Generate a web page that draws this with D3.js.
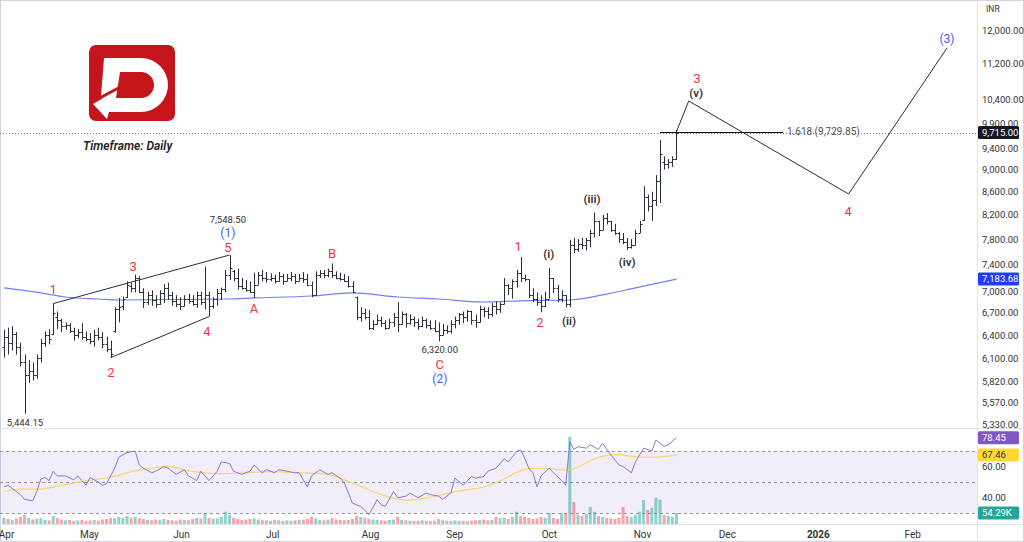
<!DOCTYPE html>
<html>
<head>
<meta charset="utf-8">
<script src="https://cdn.jsdelivr.net/npm/d3@7"></script>
<style>
html, body { margin: 0; padding: 0; background: #fff; }
svg { display: block; font-family: Roboto, "Liberation Sans", sans-serif; }
</style>
</head>
<body>
<svg id="chart"></svg>
<script>
// Daily OHLC bars, Apr -> mid Nov (index = trading bar)
const opens = [6250,6380,6300,6420,6250,6050,5900,5950,5900,6100, 6300,6400,6420,6650,6600,6520,6540,6460,6400,6440,
  6380,6350,6320,6400,6380,6280,6220,6450,6750,6790, 6920,7080,7050,7200,7000,6850,6950,6880,6820,6980,
  7050,6950,6870,6820,6790,6900,6870,6830,6950,6850, 6950,6800,6900,6980,7040,7250,7300,7200,7080,7060,
  7020,7000,7100,7250,7200,7180,7200,7150,7230,7150, 7200,7230,7150,7200,7180,7100,6950,7250,7280,7240,
  7300,7250,7200,7180,7150,7080,6930,6650,6700,6640, 6500,6550,6600,6560,6500,6580,6650,6550,6680,6560,
  6620,6580,6520,6600,6540,6500,6460,6400,6470,6450, 6550,6600,6680,6650,6720,6600,6580,6750,6720,6680,
  6800,6760,6830,7100,7050,7150,7280,7200,7180,6950, 6900,6850,6800,6900,7200,7050,6900,6950,6830,7700,
  7650,7720,7700,7780,7900,8100,7950,8150,8100,7950, 7900,7800,7750,7680,7700,7900,8120,8500,8350,8450,
  8800,9150,9100,9150,9200];
const highs = [6470,6500,6520,6440,6300,6150,6080,6050,6150,6350, 6450,6480,6830,6720,6620,6570,6560,6500,6480,6560,
  6450,6430,6470,6500,6440,6380,6330,6780,6910,6930, 7150,7130,7250,7230,7050,7000,7020,6950,7020,7110,
  7130,7000,6950,6920,6950,6970,6950,7000,7000,7370, 7000,6920,7040,7060,7320,7548.5,7320,7340,7200,7170,
  7150,7280,7290,7320,7290,7270,7250,7290,7260,7260, 7290,7260,7260,7290,7260,7150,7300,7320,7320,7340,
  7420,7300,7280,7260,7230,7150,6930,6780,6760,6740, 6600,6680,6650,6600,6620,6700,6850,6720,6700,6680,
  6650,6620,6650,6620,6600,6600,6570,6550,6530,6600, 6650,6700,6720,6740,6730,6680,6800,6780,6780,6840,
  6860,6850,7200,7110,7180,7320,7520,7250,7180,7050, 6990,6950,7000,7350,7200,7100,7020,6950,7790,7820,
  7800,7820,7820,7950,8240,8100,8200,8230,8100,8050, 7920,7900,7820,7800,7950,8100,8700,8550,8600,8900,
  9570,9250,9200,9250,9760];
const lows = [6110,6150,6200,6150,6000,5444.15,5800,5830,5850,6050, 6250,6280,6400,6480,6440,6470,6430,6330,6360,6340,
  6320,6280,6250,6330,6230,6180,6110,6430,6570,6740, 6910,6990,6990,6980,6770,6810,6800,6770,6810,6840,
  6880,6800,6780,6740,6790,6830,6800,6770,6810,6750, 6650,6760,6800,6880,6990,7170,7150,7030,7030,7000,
  6980,6910,7100,7150,7130,7150,7120,7150,7100,7150, 7150,7110,7150,7130,7080,6920,6940,7200,7200,7210,
  7200,7180,7160,7140,7060,6980,6600,6580,6610,6470, 6470,6540,6510,6470,6490,6510,6440,6540,6500,6540,
  6510,6470,6510,6490,6470,6440,6320,6400,6420,6420, 6490,6540,6560,6580,6540,6500,6570,6640,6620,6650,
  6680,6700,6820,6950,6900,7060,7140,7150,6910,6850, 6800,6710,6780,6900,6980,6850,6850,6780,6780,7580,
  7600,7640,7620,7670,7830,7850,7950,8040,7920,7870, 7740,7720,7630,7650,7700,7900,8100,8260,8100,8350,
  8400,9000,9020,9050,9180];
const closes = [6380,6300,6420,6250,6050,5900,5950,5900,6100,6300, 6400,6350,6700,6600,6520,6540,6460,6400,6440,6380,
  6350,6320,6400,6380,6280,6220,6160,6750,6780,6900, 7100,7050,7200,7000,6850,6950,6880,6820,6980,7050,
  6950,6870,6820,6790,6900,6870,6830,6950,6850,6950, 6800,6900,6980,7040,7250,7350,7200,7080,7060,7020,
  7000,7100,7250,7200,7180,7200,7150,7230,7150,7200, 7230,7150,7200,7180,7100,6950,7250,7280,7240,7300,
  7250,7200,7180,7150,7080,7000,6650,6700,6640,6500, 6550,6600,6560,6500,6580,6650,6550,6680,6560,6620,
  6580,6520,6600,6540,6500,6460,6400,6470,6450,6550, 6600,6680,6650,6720,6600,6580,6750,6720,6680,6800,
  6760,6820,7100,7050,7150,7280,7200,7180,6950,6900, 6850,6800,6900,7200,7050,6900,6950,6820,7700,7650,
  7720,7700,7780,7900,8100,7950,8150,8100,7950,7900, 7800,7750,7680,7700,7900,8050,8500,8350,8450,8800,
  9300,9100,9150,9200,9715];
// volume in thousands
const volumes = [30,25,20,28,35,45,30,22,25,28, 20,18,40,30,22,18,20,15,18,20, 15,18,20,16,22,25,30,28,35,30,
  40,30,35,28,25,20,18,22,20,25, 20,18,16,22,20,18,25,30,28,54, 30,25,28,35,60,45,30,25,20,22,
  25,28,22,20,18,16,20,18,15,18, 16,18,20,22,25,35,28,20,18,22, 30,22,20,18,20,25,40,35,30,25,
  22,20,18,16,20,22,35,20,18,16, 15,16,18,15,14,16,25,18,16,15, 18,16,15,14,16,18,20,22,18,20,
  35,28,30,25,35,60,40,35,30,25, 28,35,30,54,30,25,54,50,430,108, 45,40,50,84,60,40,35,30,28,25,
  30,84,40,35,45,60,118,70,80,130, 120,45,40,35,54.29];

// 200 MA (blue) read at sample bars
const maIdx = [0,9,15,23,28,55,61,75,85,96,106,117,126,138,146,154,164];
const maVal = [7055,6982,6924,6895,6881,6895,6910,6938,6982,6924,6895,6853,6870,6881,6953,7054,7183.68];

// RSI and its average, sampled
const rsiIdx = [0,1,2,4,5,7,8,9,10,11,12,13,15,17,18,19,20,21,23,24,25,27,28,30,32,33,34,36,37,39,40,42,44,45,47,48,50,52,53,55,56,58,60,61,63,64,66,67,69,71,72,74,75,77,79,80,82,83,85,87,88,89,91,92,93,95,96,98,99,101,103,104,106,107,109,110,112,114,115,117,118,120,122,123,125,126,127,128,129,130,131,133,134,136,137,138,139,140,142,143,145,146,148,150,151,153,154,156,158,159,161,162,164];
const rsiVal = [47,48,46,42,39,38,44,52,53,51,57,54,54,51.5,54,51,48,53,50,48,49,59,66,69,70,61,59,56,57,60,59,55,58,54,51,57,51,57,63,62,57,55,57,61,56,58,56,58,57,56,56,47,54,58,55,56,52.6,49.5,36.5,34.4,32,29,38.7,35.4,34.4,44,40,41,43,40,43,42,41,39,43,52.6,48,53.6,52.6,53.6,57,59,65,63,69.6,70.7,65.4,59,56,47,54,59,56,51,48,76,71,72.8,71.8,74,71,75,67.5,61,60,56,63,71.8,70,77,73,74,78.45];
const rsiMaIdx = [0,4,9,12,17,21,26,31,36,40,44,48,53,58,63,67,72,77,80,83,88,93,98,103,107,112,117,122,125,128,133,138,141,144,147,150,153,157,160,164];
const rsiMaVal = [44,46,45,47,49.5,51.5,52.6,57,59,61,57.9,55.8,55.3,55.8,56.8,56.8,55.8,55.8,54.7,51.5,46.2,40.8,37.6,39.7,41.9,45,46.2,51.5,56.8,59,59,56.8,61,65.4,67.5,68,66.4,65.8,66,67.46];

// axis ticks
const priceTicks = [12000,11200,10400,9900,9400,9000,8600,8200,7800,7400,7000,6700,6400,6100,5820,5570,5330];
const rsiTicks = [60,40];
const monthLabels = ["Apr","May","Jun","Jul","Aug","Sep","Oct","Nov","Dec","2026","Feb"];
const monthIdx = [0.5,20.7,43.2,65.4,89.3,109.8,132.9,155.6,176.3,198.5,221.5];

// wave annotations: text, bar index, price level of the label
const redLabels = [["1",12,7038],["3",31.5,7380],["5",54.6,7675],["2",26.1,5921],["4",49.5,6455],
  ["A",61,6769],["B",80,7580],["C",106.3,6031],["1",125.4,7690],["2",130.7,6576],["3",169,10871],["4",205.9,8266]];
const blueLabels = [["(1)",54.6,7900],["(2)",106.3,5848],["(3)",230,11779]];
const minorLabels = [["(i)",132.9,7565],["(ii)",137.8,6589],["(iii)",143.4,8472],["(iv)",152,7441],["(v)",168.8,10540]];
const priceNotes = [["7,548.50",54.6,8114],["6,320.00",106.3,6208],["5,444.15",5.1,5341]];
const projIdx = [164,167,206,230];
const projVal = [9729.85,10368,8560,11563];
const wedgeTop = [[12,6830],[55,7548.5]];
const wedgeBot = [[26,6110],[50,6650]];
const fib = { from: 160, to: 190, level: 9729.85, text: "1.618 (9,729.85)" };
const lastClose = 9715, lastMa = 7183.68, lastRsi = 78.45, lastRsiMa = 67.46, lastVol = "54.29K";

const W = 1024, H = 542, plotR = 977, paneSplit = 428, axisTop = 524;
const svg = d3.select("#chart").attr("width", W).attr("height", H);

const x = d3.scaleLinear().domain([0, 237]).range([4, 975.7]);
const y = d3.scaleLog().domain([5330, 12000]).range([424, 30]);
const ry = d3.scaleLinear().domain([30, 70]).range([513.3, 451]);
const vy = d3.scaleLinear().domain([0, 430]).range([axisTop, 436.9]);

const red = "#f23645", blue = "#3f5cf5", ink = "#2a2e39";

svg.append("defs").append("clipPath").attr("id", "pc")
  .append("rect").attr("x", 0).attr("y", 0).attr("width", plotR).attr("height", paneSplit);

// frame lines
svg.append("rect").attr("x", 0.5).attr("y", 0.5).attr("width", W - 1).attr("height", H - 1)
  .attr("fill", "none").attr("stroke", "#d1d4dc");
svg.append("line").attr("x1", plotR + 0.5).attr("x2", plotR + 0.5).attr("y1", 0).attr("y2", H).attr("stroke", "#e0e3eb");
svg.append("line").attr("x1", 0).attr("x2", W).attr("y1", paneSplit + 0.5).attr("y2", paneSplit + 0.5).attr("stroke", "#e0e3eb");
svg.append("line").attr("x1", 0).attr("x2", W).attr("y1", axisTop + 0.5).attr("y2", axisTop + 0.5).attr("stroke", "#e0e3eb");

// ---- RSI pane
svg.append("rect").attr("x", 0).attr("width", plotR).attr("y", ry(70)).attr("height", ry(30) - ry(70))
  .attr("fill", "rgba(126,87,194,0.1)");
svg.selectAll(".rsiband").data([70, 50, 30]).enter().append("line")
  .attr("x1", 0).attr("x2", plotR).attr("y1", d => Math.round(ry(d)) + 0.5).attr("y2", d => Math.round(ry(d)) + 0.5)
  .attr("stroke", "#9598a1").attr("stroke-dasharray", "3,3");

const bars = closes.map((c, i) => ({ i, o: opens[i], h: highs[i], l: lows[i], c, v: volumes[i] }));

svg.selectAll(".vol").data(bars).enter().append("rect")
  .attr("x", d => x(d.i) - 1.5).attr("width", 3)
  .attr("y", d => vy(d.v)).attr("height", d => axisTop - vy(d.v))
  .attr("fill", d => d.c >= d.o ? "rgba(38,166,154,0.5)" : "rgba(242,54,69,0.45)");

svg.append("path").datum(d3.zip(rsiMaIdx, rsiMaVal))
  .attr("d", d3.line().x(d => x(d[0])).y(d => ry(d[1])).curve(d3.curveBasis))
  .attr("fill", "none").attr("stroke", "#f8d66d").attr("stroke-width", 1.2);
svg.append("path").datum(d3.zip(rsiIdx, rsiVal))
  .attr("d", d3.line().x(d => x(d[0])).y(d => ry(d[1])))
  .attr("fill", "none").attr("stroke", "#8f76d6").attr("stroke-width", 1);

// ---- price pane
const pp = svg.append("g").attr("clip-path", "url(#pc)");

// last price dotted line
pp.append("line").attr("x1", 0).attr("x2", plotR).attr("y1", Math.round(y(lastClose)) + 0.5).attr("y2", Math.round(y(lastClose)) + 0.5)
  .attr("stroke", "#787b86").attr("stroke-dasharray", "1,2");

// 200 MA
pp.append("path").datum(d3.zip(maIdx, maVal))
  .attr("d", d3.line().x(d => x(d[0])).y(d => y(d[1])).curve(d3.curveMonotoneX))
  .attr("fill", "none").attr("stroke", "#7380f5").attr("stroke-width", 1.2);

// OHLC bars
pp.selectAll(".bar").data(bars).enter().append("path")
  .attr("d", d => {
    const X = Math.round(x(d.i)) + 0.5;
    return `M${X},${y(d.h)}V${y(d.l)}M${X - 2},${Math.round(y(d.o)) + 0.5}H${X}M${X},${Math.round(y(d.c)) + 0.5}H${X + 2}`;
  })
  .attr("stroke", ink).attr("stroke-width", 1).attr("fill", "none");

// wedge
[wedgeTop, wedgeBot].forEach(seg => {
  pp.append("line").attr("x1", x(seg[0][0])).attr("y1", y(seg[0][1])).attr("x2", x(seg[1][0])).attr("y2", y(seg[1][1]))
    .attr("stroke", ink).attr("stroke-width", 1);
});

// fib level
pp.append("line").attr("x1", x(fib.from)).attr("x2", x(fib.to)).attr("y1", Math.round(y(fib.level)) + 0.5).attr("y2", Math.round(y(fib.level)) + 0.5)
  .attr("stroke", "#111").attr("stroke-width", 1);
pp.append("text").attr("x", x(fib.to) + 4).attr("y", y(fib.level) + 3.5)
  .attr("font-size", 10).attr("fill", "#555").text(fib.text);

// projected path
pp.append("path").datum(d3.zip(projIdx, projVal))
  .attr("d", d3.line().x(d => x(d[0])).y(d => y(d[1])))
  .attr("fill", "none").attr("stroke", ink).attr("stroke-width", 1);

function labels(list, color, size, weight) {
  pp.selectAll(null).data(list).enter().append("text")
    .attr("x", d => x(d[1])).attr("y", d => y(d[2]))
    .attr("dy", "0.35em").attr("text-anchor", "middle")
    .attr("font-size", size).attr("font-weight", weight).attr("fill", color)
    .text(d => d[0]);
}
labels(redLabels, red, 13, 400);
labels(blueLabels, blue, 12, 400);
labels(minorLabels, "#333", 11.5, 600);
labels(priceNotes, "#333", 9.5, 400);

// logo
const logo = svg.append("g");
logo.append("rect").attr("x", 89).attr("y", 45).attr("width", 86).attr("height", 76).attr("rx", 7).attr("fill", "#c3151b");
logo.append("path")
  .attr("d", "M104,58 H141 A27,27 0 0 1 141,112 H108 L101,96 Z M120,72 H141 A13,13 0 0 1 141,98 H116 Z")
  .attr("fill", "#fff").attr("fill-rule", "evenodd");
logo.append("path").attr("d", "M93,104 L115,91 L107,119 Z").attr("fill", "#fff");
logo.append("line").attr("x1", 96).attr("y1", 100).attr("x2", 124).attr("y2", 85).attr("stroke", "#c3151b").attr("stroke-width", 3);
svg.append("text").attr("x", 83).attr("y", 150).attr("font-size", 12).attr("font-style", "italic")
  .attr("font-weight", 600).attr("fill", "#222").text("Timeframe: Daily");

// ---- axes
const pa = svg.append("g").attr("transform", `translate(${plotR},0)`)
  .call(d3.axisRight(y).tickValues(priceTicks).tickFormat(d3.format(",.2f")).tickSize(0));
pa.select(".domain").remove();
pa.selectAll("text").attr("x", 5).attr("font-size", 9.5).attr("fill", "#333").attr("font-family", "Roboto, sans-serif");

const ra = svg.append("g").attr("transform", `translate(${plotR},0)`)
  .call(d3.axisRight(ry).tickValues(rsiTicks).tickFormat(d3.format(".2f")).tickSize(0));
ra.select(".domain").remove();
ra.selectAll("text").attr("x", 5).attr("font-size", 9.5).attr("fill", "#333").attr("font-family", "Roboto, sans-serif");

const ta = svg.append("g").attr("transform", `translate(0,${axisTop})`)
  .call(d3.axisBottom(x).tickValues(monthIdx).tickFormat((d, i) => monthLabels[i]).tickSize(0));
ta.select(".domain").remove();
ta.selectAll("text").attr("y", 7).attr("font-size", 10).attr("fill", "#333").attr("font-family", "Roboto, sans-serif")
  .attr("font-weight", (d, i) => monthLabels[i] === "2026" ? 700 : 400);

svg.append("text").attr("x", 986).attr("y", 12).attr("font-size", 8.5).attr("fill", "#333").text("INR");

// badges on the right scale
const badges = [
  [d3.format(",.2f")(lastClose), y(lastClose), "#131722", "#fff"],
  [d3.format(",.2f")(lastMa), y(lastMa), "#1e3cff", "#fff"],
  [d3.format(".2f")(lastRsi), ry(lastRsi), "#7e57c2", "#fff"],
  [d3.format(".2f")(lastRsiMa), ry(lastRsiMa), "#fdd835", "#333"],
  [lastVol, vy(54.29), "#26a69a", "#fff"]
];
const bg = svg.selectAll(".badge").data(badges).enter().append("g");
bg.append("rect").attr("x", 978).attr("width", 41).attr("y", d => d[1] - 6.5).attr("height", 13).attr("rx", 1.5).attr("fill", d => d[2]);
bg.append("text").attr("x", 982).attr("y", d => d[1]).attr("dy", "0.35em").attr("font-size", 9.5)
  .attr("fill", d => d[3]).text(d => d[0]);
</script>
</body>
</html>
